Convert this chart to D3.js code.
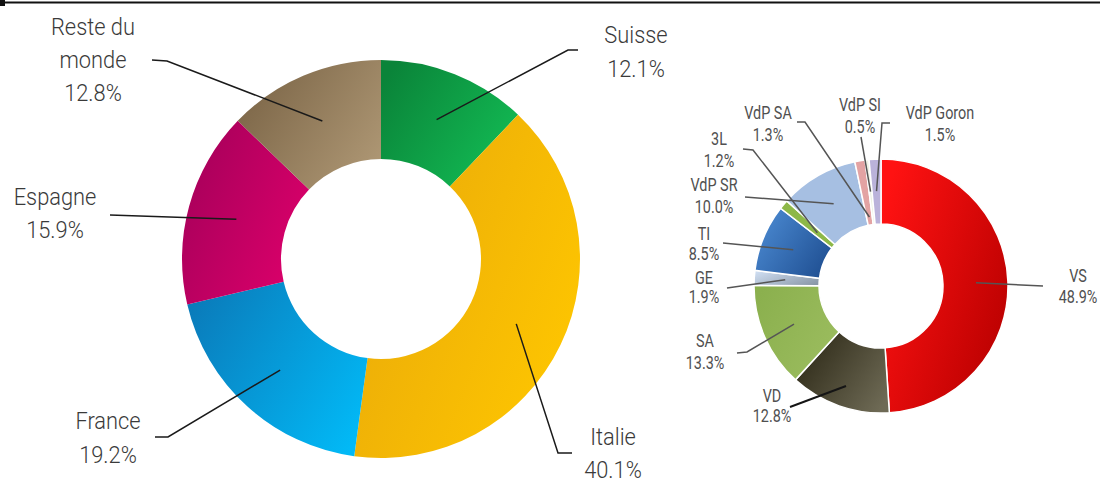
<!DOCTYPE html>
<html lang="fr">
<head>
<meta charset="UTF-8">
<title>Parts de marché</title>
<style>
  body { margin: 0; background: #fff; }
  svg { display: block; }
  .big text { font-family: Roboto, "Open Sans", sans-serif; font-size: 23px; font-weight: 300; fill: #3a3a3a; }
  .small text { font-family: Roboto, "Open Sans", sans-serif; font-size: 18px; font-weight: 400; fill: #505050; }
</style>
</head>
<body>
<svg id="chart" width="1100" height="484"></svg>
<script src="https://d3js.org/d3.v7.min.js"></script>
<script>
// data: left donut (provenance)
var countries = ["Suisse", "Italie", "France", "Espagne", "Reste du monde"];
var countryShares = [12.1, 40.1, 19.2, 15.9, 12.8];
var countryLabels = [["Suisse", "12.1%"], ["Italie", "40.1%"], ["France", "19.2%"], ["Espagne", "15.9%"], ["Reste du", "monde", "12.8%"]];

// data: right donut (regions suisses)
var regions = ["VS", "VD", "SA", "GE", "TI", "3L", "VdP SR", "VdP SA", "VdP SI", "VdP Goron"];
var regionShares = [48.9, 12.8, 13.3, 1.9, 8.5, 1.2, 10.0, 1.3, 0.5, 1.5];
var regionLabels = [["VS", "48.9%"], ["VD", "12.8%"], ["SA", "13.3%"], ["GE", "1.9%"], ["TI", "8.5%"],
                    ["3L", "1.2%"], ["VdP SR", "10.0%"], ["VdP SA", "1.3%"], ["VdP SI", "0.5%"], ["VdP Goron", "1.5%"]];

// colours: [dark, light] for the gradient in each slice
var countryColors = [["#0a8439", "#13bd55"], ["#e9a90a", "#ffc700"], ["#0a7cbb", "#02b9f6"], ["#a5005a", "#de006b"], ["#7a6446", "#ae9774"]];
var regionColors = [["#ff1212", "#b80000"], ["#2c2816", "#6e6a55"], ["#8bb04e", "#9cbd5f"], ["#cddcf0", "#8a98a8"], ["#4b8ad2", "#1f4f92"],
                    ["#8db848", "#8db848"], ["#a6bfe2", "#a6bfe2"], ["#e3a3a3", "#e3a3a3"], ["#eef2e4", "#eef2e4"], ["#bab2da", "#bab2da"]];

// label layout: leader line start radius, line points after the start, text centre and first baseline
var countryLayout = [
  {r: 150, pts: [[568, 50], [578, 50]], tx: 636, ty: 43, dy: 34},
  {r: 150, pts: [[558, 453], [572, 453]], tx: 613, ty: 445, dy: 33},
  {r: 150, pts: [[168, 437], [155, 437]], tx: 108, ty: 429, dy: 34},
  {r: 150, pts: [[110, 215]], tx: 55, ty: 205, dy: 33},
  {r: 150, pts: [[167, 61], [152, 60]], tx: 93, ty: 35, dy: 33}
];
var regionLayout = [
  {r: 95, pts: [[1043, 286]], tx: 1078, ty: 282, dy: 21},
  {r: 106, pts: [[790, 407]], tx: 772, ty: 402, dy: 20, dark: true},
  {r: 95, pts: [[747, 352], [737, 353]], tx: 705, ty: 347, dy: 22},
  {r: 96, pts: [[727, 288]], tx: 704, ty: 284, dy: 19},
  {r: 95, pts: [[723, 243]], tx: 704, ty: 240, dy: 20},
  {r: 83, pts: [[753, 150], [743, 149]], tx: 719, ty: 145, dy: 22},
  {r: 95, pts: [[745, 197]], tx: 714, ty: 191, dy: 22},
  {r: 70, pts: [[805, 122], [797, 122]], tx: 768, ty: 119, dy: 22},
  {r: 95, pts: [[861, 137]], tx: 860, ty: 111, dy: 22},
  {r: 95, pts: [[882, 123], [890, 123]], tx: 940, ty: 119, dy: 22}
];

var svg = d3.select("#chart");
var defs = svg.append("defs");

// top rule
svg.append("line").attr("x1", 0).attr("x2", 1100).attr("y1", 2.5).attr("y2", 2.5)
  .attr("stroke", "#111").attr("stroke-width", 2);
svg.append("rect").attr("x", 0).attr("y", 0).attr("width", 5).attr("height", 6).attr("fill", "#111");

function donut(opts) {
  var pie = d3.pie().sort(null).value(function(d) { return d; });
  var arcs = pie(opts.values);
  var arc = d3.arc().innerRadius(opts.inner).outerRadius(opts.outer);

  opts.colors.forEach(function(c, i) {
    var g = defs.append("linearGradient").attr("id", opts.id + "g" + i)
      .attr("x1", 0).attr("y1", 0.2).attr("x2", 1).attr("y2", 0.8);
    g.append("stop").attr("offset", "0%").attr("stop-color", c[0]);
    g.append("stop").attr("offset", "100%").attr("stop-color", c[1]);
  });

  var g = svg.append("g").attr("class", opts.cls)
    .attr("transform", "translate(" + opts.cx + "," + opts.cy + ")");

  g.selectAll("path.slice")
    .data(arcs)
    .enter().append("path")
    .attr("class", "slice")
    .attr("d", arc)
    .attr("fill", function(d, i) { return "url(#" + opts.id + "g" + i + ")"; })
    .attr("stroke", opts.sep ? "#fff" : "none")
    .attr("stroke-width", opts.sep || 0);

  // leader lines + labels
  var line = d3.line();
  arcs.forEach(function(a, i) {
    var L = opts.layout[i];
    var mid = (a.startAngle + a.endAngle) / 2;
    var start = [L.r * Math.sin(mid), -L.r * Math.cos(mid)];
    var pts = [start].concat(L.pts.map(function(p) { return [p[0] - opts.cx, p[1] - opts.cy]; }));
    g.append("path")
      .attr("d", line(pts))
      .attr("fill", "none")
      .attr("stroke", L.dark ? "#151515" : opts.lineColor)
      .attr("stroke-width", L.dark ? 2 : 1.5);

    var t = g.append("g")
      .attr("transform", "translate(" + (L.tx - opts.cx) + "," + (L.ty - opts.cy) + ") scale(" + opts.squeeze + ",1)");
    opts.labels[i].forEach(function(s, k) {
      t.append("text")
        .attr("x", 0)
        .attr("y", k * L.dy)
        .attr("text-anchor", "middle")
        .text(s);
    });
  });
}

donut({
  id: "c", cls: "big", cx: 381, cy: 259, inner: 100, outer: 199,
  values: countryShares, colors: countryColors, labels: countryLabels,
  layout: countryLayout, lineColor: "#1a1a1a", squeeze: 0.95, sep: 0
});

donut({
  id: "r", cls: "small", cx: 881, cy: 286, inner: 62, outer: 127,
  values: regionShares, colors: regionColors, labels: regionLabels,
  layout: regionLayout, lineColor: "#555", squeeze: 0.8, sep: 1.5
});
</script>
</body>
</html>
